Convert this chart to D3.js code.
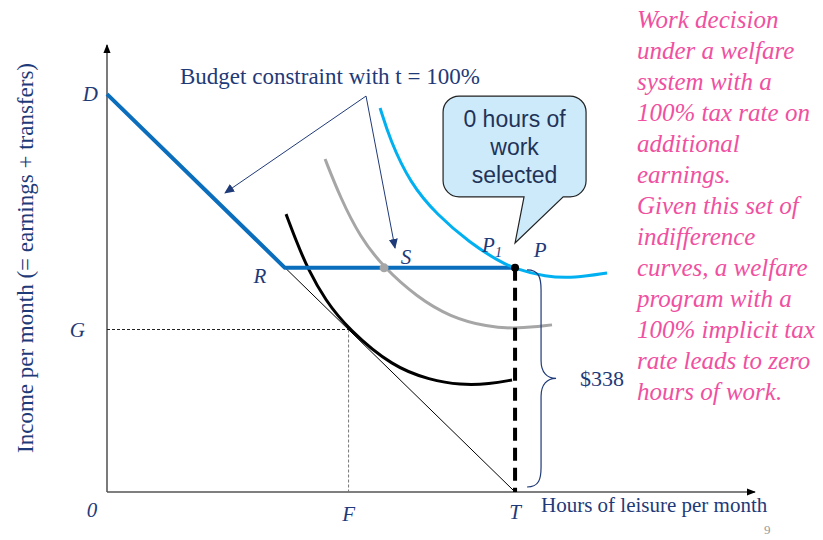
<!DOCTYPE html>
<html>
<head>
<meta charset="utf-8">
<script src="https://cdn.jsdelivr.net/npm/d3@7"></script>
<style>
  body { margin: 0; background: #fff; }
  svg { display: block; }
  .lbl { font-family: "Liberation Serif", "Times New Roman", serif; font-style: italic; fill: #1f3a78; }
  .serif { font-family: "Liberation Serif", "Times New Roman", serif; fill: #1f3a78; }
  .note { font-family: "Liberation Serif", "Times New Roman", serif; font-style: italic; fill: #f0509f; }
  .callout { font-family: "Liberation Sans", Arial, sans-serif; fill: #1f3358; }
</style>
</head>
<body>
<script>
// hours of leisure (x) and income in $ (y)
var T = 500, F = 296, G = 245, D = 600;
var R = [218, 338], P = [500, 338], S = [339.5, 338];
var transfer = 338;

// indifference curves
var icLow = [[219.4, 419], [232.8, 375.5], [246.3, 336], [267.2, 289.5], [296, 245], [350.5, 188.5], [395.8, 169], [432.6, 161.3], [469.4, 162.8], [496.3, 169]];
var icMid = [[267.2, 502], [285.5, 445], [310, 384.5], [339.5, 338], [379.9, 294], [420.3, 264], [465.7, 249], [502.5, 246], [545.3, 252]];
var icHigh = [[334.6, 579], [346.8, 531], [371.3, 466], [404.4, 417.7], [444.9, 375.5], [481.6, 346.8], [500, 337], [536.8, 324.2], [573.5, 322.7], [612.7, 330.2]];

// annotation arrow: apex and two targets
var apex = [317.4, 597];
var targets = [[144.6, 451], [352.9, 368]];

var calloutLines = ["0 hours of", "work", "selected"];
var sideNote = ["Work decision", "under a welfare", "system with a", "100% tax rate on", "additional", "earnings.", "Given this set of", "indifference", "curves, a welfare", "program with a", "100% implicit tax", "rate leads to zero", "hours of work."];

var W = 823, H = 540;
var svg = d3.select("body").append("svg").attr("width", W).attr("height", H);

var x = d3.scaleLinear().domain([0, 794]).range([107, 755]);
var y = d3.scaleLinear().domain([0, 674]).range([492, 45]);

var defs = svg.append("defs");
defs.append("marker").attr("id", "axArrow").attr("viewBox", "0 0 10 10")
    .attr("refX", 9).attr("refY", 5).attr("markerWidth", 9).attr("markerHeight", 9)
    .attr("markerUnits", "userSpaceOnUse").attr("orient", "auto")
    .append("path").attr("d", "M0,1 L10,5 L0,9 Z").attr("fill", "#000");
defs.append("marker").attr("id", "navyArrow").attr("viewBox", "0 0 10 10")
    .attr("refX", 9).attr("refY", 5).attr("markerWidth", 10).attr("markerHeight", 10)
    .attr("markerUnits", "userSpaceOnUse").attr("orient", "auto")
    .append("path").attr("d", "M0,0.5 L10,5 L0,9.5 Z").attr("fill", "#1f3a78");

var line = d3.line().x(function(d) { return x(d[0]); }).y(function(d) { return y(d[1]); });
var curve = d3.line().x(function(d) { return x(d[0]); }).y(function(d) { return y(d[1]); }).curve(d3.curveBasis);

// axes
svg.append("line").attr("x1", x(0)).attr("y1", y(0)).attr("x2", x(0)).attr("y2", y(674))
    .attr("stroke", "#333").attr("stroke-width", 1.3).attr("marker-end", "url(#axArrow)");
svg.append("line").attr("x1", x(0)).attr("y1", y(0)).attr("x2", x(794)).attr("y2", y(0))
    .attr("stroke", "#555").attr("stroke-width", 1.5).attr("marker-end", "url(#axArrow)");

// G and F guides
svg.append("path").attr("d", line([[0, G], [F, G]])).attr("stroke", "#222").attr("stroke-width", 1)
    .attr("stroke-dasharray", "3,2").attr("fill", "none");
svg.append("path").attr("d", line([[F, G], [F, 0]])).attr("stroke", "#777").attr("stroke-width", 1)
    .attr("stroke-dasharray", "3,2").attr("fill", "none");

// original budget line D-T
svg.append("path").attr("d", line([[0, D], [T, 0]])).attr("stroke", "#000").attr("stroke-width", 1).attr("fill", "none");

// indifference curves
svg.append("path").attr("d", curve(icLow)).attr("stroke", "#000").attr("stroke-width", 3).attr("fill", "none");
svg.append("path").attr("d", curve(icMid)).attr("stroke", "#a6a6a6").attr("stroke-width", 3).attr("fill", "none");

// budget constraint with t = 100%
svg.append("path").attr("d", line([[0, D], R, P])).attr("stroke", "#0a6ebd").attr("stroke-width", 4)
    .attr("fill", "none").attr("stroke-linejoin", "round");

svg.append("path").attr("d", curve(icHigh)).attr("stroke", "#00b0f0").attr("stroke-width", 3).attr("fill", "none");

// dashed vertical at T
svg.append("path").attr("d", line([[T, transfer], [T, 0]])).attr("stroke", "#000").attr("stroke-width", 4)
    .attr("stroke-dasharray", "13,7").attr("fill", "none");

svg.append("circle").attr("cx", x(S[0])).attr("cy", y(S[1])).attr("r", 4.5).attr("fill", "#a6a6a6");
svg.append("circle").attr("cx", x(P[0])).attr("cy", y(P[1])).attr("r", 4).attr("fill", "#000");

// curly brace for $338
(function() {
  var bx = x(T) + 12, tipX = x(T) + 41;
  var top = y(transfer) + 2, bot = y(0) - 5, mid = (top + bot) / 2;
  var p = d3.path();
  p.moveTo(bx, top);
  p.bezierCurveTo(bx + 12, top, bx + 14, top + 8, bx + 14, top + 20);
  p.lineTo(bx + 14, mid - 18);
  p.bezierCurveTo(bx + 14, mid - 6, bx + 20, mid, tipX, mid);
  p.bezierCurveTo(bx + 20, mid, bx + 14, mid + 6, bx + 14, mid + 18);
  p.lineTo(bx + 14, bot - 20);
  p.bezierCurveTo(bx + 14, bot - 8, bx + 12, bot, bx, bot);
  svg.append("path").attr("d", p.toString()).attr("stroke", "#1f3a78").attr("stroke-width", 1.2).attr("fill", "none");
  svg.append("text").attr("class", "serif").attr("x", tipX + 24).attr("y", mid + 8)
      .attr("font-size", 22).text("$" + transfer);
})();

// annotation
svg.append("text").attr("class", "serif").attr("x", 180).attr("y", 84).attr("font-size", 23)
    .text("Budget constraint with t = 100%");
targets.forEach(function(t) {
  svg.append("line").attr("x1", x(apex[0])).attr("y1", y(apex[1])).attr("x2", x(t[0])).attr("y2", y(t[1]))
      .attr("stroke", "#1f3a78").attr("stroke-width", 1).attr("marker-end", "url(#navyArrow)");
});

// callout
(function() {
  var l = x(411.8), r = x(587), t = y(597), b = y(445), rr = 16;
  var tip = [x(500), y(375.5)], b1 = x(511), b2 = x(559);
  var p = d3.path();
  p.moveTo(l + rr, t);
  p.lineTo(r - rr, t); p.arcTo(r, t, r, t + rr, rr);
  p.lineTo(r, b - rr); p.arcTo(r, b, r - rr, b, rr);
  p.lineTo(b2, b); p.lineTo(tip[0], tip[1]); p.lineTo(b1, b);
  p.lineTo(l + rr, b); p.arcTo(l, b, l, b - rr, rr);
  p.lineTo(l, t + rr); p.arcTo(l, t, l + rr, t, rr);
  p.closePath();
  svg.append("path").attr("d", p.toString()).attr("fill", "#cdeafb").attr("stroke", "#222").attr("stroke-width", 1.2);
  calloutLines.forEach(function(s, i) {
    svg.append("text").attr("class", "callout").attr("x", (l + r) / 2).attr("y", t + 31 + i * 28)
        .attr("text-anchor", "middle").attr("font-size", 23).text(s);
  });
})();

// point labels
function lab(txt, px, py, anchor, size) {
  return svg.append("text").attr("class", "lbl").attr("x", px).attr("y", py)
      .attr("text-anchor", anchor || "middle").attr("font-size", size || 21).text(txt);
}
lab("D", x(0) - 9, y(D) + 7, "end");
lab("G", x(0) - 22, y(G) + 7, "end");
lab("0", x(0) - 15, y(0) + 25);
lab("F", x(F), y(0) + 29);
lab("T", x(T), y(0) + 27);
lab("R", x(R[0]) - 25, y(R[1]) + 15);
lab("S", x(S[0]) + 22, y(S[1]) - 4);
var p1 = lab("P", x(P[0]) - 33, y(P[1]) - 16, "start");
p1.append("tspan").attr("font-size", 14).attr("dy", 5).text("1");
lab("P", x(P[0]) + 25, y(P[1]) - 11);

// axis titles
svg.append("text").attr("class", "serif").attr("font-size", 23)
    .attr("transform", "translate(33,258) rotate(-90)").attr("text-anchor", "middle")
    .text("Income per month (= earnings + transfers)");
svg.append("text").attr("class", "serif").attr("font-size", 21).attr("x", 541).attr("y", 512)
    .text("Hours of leisure per month");

// side note
sideNote.forEach(function(s, i) {
  svg.append("text").attr("class", "note").attr("x", 637).attr("y", 28 + i * 31)
      .attr("font-size", 25).text(s);
});

svg.append("text").attr("x", 764).attr("y", 534).attr("font-family", "Liberation Serif, serif")
    .attr("font-size", 13).attr("fill", "#999").text("9");
</script>
</body>
</html>
